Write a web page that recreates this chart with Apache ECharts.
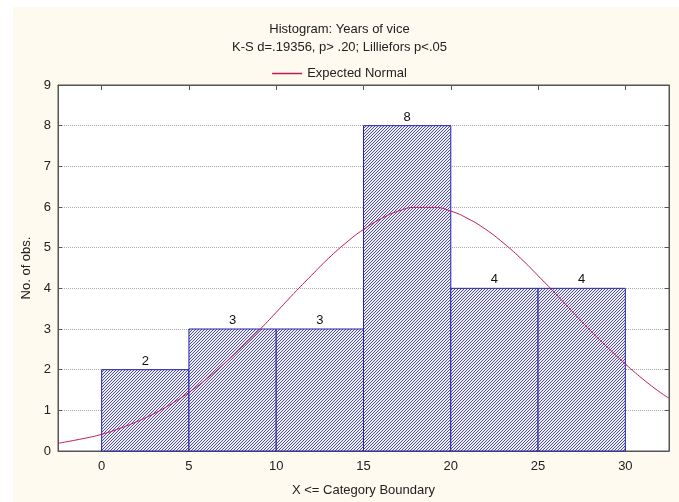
<!DOCTYPE html>
<html>
<head>
<meta charset="utf-8">
<script src="https://cdn.jsdelivr.net/npm/echarts@6/dist/echarts.min.js"></script>
<style>
html,body{margin:0;padding:0;background:#ffffff;}
#chart{width:679px;height:502px;}
</style>
</head>
<body>
<div id="chart"></div>
<script>
// ---- data ----
var binStarts = [0, 5, 10, 15, 20, 25];
var binWidth = 5;
var counts = [2, 3, 3, 8, 4, 4];
var xTicks = [0, 5, 10, 15, 20, 25, 30];
var curveX = [-2.5, -1, 0, 1, 2, 3, 4, 5, 6, 7, 8, 9, 10, 11, 12, 13, 14, 15, 16, 17, 18, 19, 20, 21, 22, 23, 24, 25, 26, 27, 28, 29, 30, 31, 32, 32.5];
var curveY = [0.19, 0.31, 0.41, 0.55, 0.72, 0.92, 1.16, 1.44, 1.77, 2.14, 2.54, 2.96, 3.41, 3.87, 4.31, 4.74, 5.12, 5.45, 5.71, 5.90, 5.99, 5.99, 5.90, 5.71, 5.45, 5.12, 4.74, 4.31, 3.87, 3.41, 2.96, 2.54, 2.14, 1.77, 1.44, 1.30];

var histData = binStarts.map(function (s, i) { return [s, s + binWidth, counts[i]]; });
var curveData = curveX.map(function (x, i) { return [x, curveY[i]]; });

// hatch pattern
var T = 3;
var tile = document.createElement('canvas');
tile.width = T; tile.height = T;
var c = tile.getContext('2d');
c.fillStyle = '#eeeef8';
c.fillRect(0, 0, T, T);
c.strokeStyle = '#3e3e86';
c.lineWidth = 0.9;
c.beginPath();
c.moveTo(0, T); c.lineTo(T, 0);
c.moveTo(-1, 1); c.lineTo(1, -1);
c.moveTo(T - 1, T + 1); c.lineTo(T + 1, T - 1);
c.stroke();

var FONT = 'Liberation Sans, Arial, sans-serif';
var chart = echarts.init(document.getElementById('chart'));
chart.setOption({
  backgroundColor: 'transparent',
  animation: false,
  graphic: [{
    type: 'rect', z: -100, silent: true,
    shape: { x: 13, y: 7, width: 666, height: 495 },
    style: { fill: '#fefaf0' }
  }],
  title: {
    text: 'Histogram: Years of vice',
    subtext: 'K-S d=.19356, p> .20; Lilliefors p<.05',
    left: 'center', top: 18, itemGap: 5,
    textStyle: { fontFamily: FONT, fontSize: 13, fontWeight: 'normal', color: '#222' },
    subtextStyle: { fontFamily: FONT, fontSize: 13, color: '#222' }
  },
  legend: {
    data: [{ name: 'Expected Normal', icon: 'rect' }], top: 62, left: 'center',
    itemWidth: 30, itemHeight: 1.5, itemGap: 6,
    textStyle: { fontFamily: FONT, fontSize: 13, color: '#222' }
  },
  grid: {
    left: 58, right: 10, top: 85, bottom: 49,
    show: true, backgroundColor: '#ffffff', borderColor: '#555', borderWidth: 1
  },
  xAxis: [{
    type: 'value', min: -2.5, max: 32.5,
    name: 'X <= Category Boundary', nameLocation: 'middle', nameGap: 33,
    nameTextStyle: { fontFamily: FONT, fontSize: 13, color: '#222' },
    axisLine: { show: true, onZero: false, lineStyle: { color: '#555' } },
    axisTick: { show: true, inside: true, length: 4, customValues: xTicks, lineStyle: { color: '#555' } },
    axisLabel: { customValues: xTicks, margin: 9, fontFamily: FONT, fontSize: 13, color: '#222' },
    splitLine: { show: false }
  }, {
    type: 'value', min: -2.5, max: 32.5, position: 'top',
    axisLine: { show: true, onZero: false, lineStyle: { color: '#555' } },
    axisTick: { show: true, inside: true, length: 5, customValues: xTicks, lineStyle: { color: '#555' } },
    axisLabel: { show: false },
    splitLine: { show: false }
  }],
  yAxis: [{
    type: 'value', min: 0, max: 9, interval: 1,
    name: 'No. of obs.', nameLocation: 'middle', nameGap: 22,
    nameTextStyle: { fontFamily: FONT, fontSize: 13, color: '#222' },
    axisLine: { show: true, onZero: false, lineStyle: { color: '#555' } },
    axisTick: { show: true, inside: true, length: 4, lineStyle: { color: '#555' } },
    axisLabel: { margin: 7, fontFamily: FONT, fontSize: 13, color: '#222' },
    splitLine: { show: true, lineStyle: { color: '#aaa', type: [1, 1], width: 1 } }
  }, {
    type: 'value', min: 0, max: 9, interval: 1, position: 'right',
    axisLine: { show: true, onZero: false, lineStyle: { color: '#555' } },
    axisTick: { show: true, inside: true, length: 4, lineStyle: { color: '#555' } },
    axisLabel: { show: false },
    splitLine: { show: false }
  }],
  series: [{
    type: 'custom',
    name: 'Histogram',
    xAxisIndex: 0, yAxisIndex: 0,
    data: histData,
    encode: { x: [0, 1], y: 2 },
    renderItem: function (params, api) {
      var p0 = api.coord([api.value(0), api.value(2)]);
      var p1 = api.coord([api.value(1), 0]);
      return {
        type: 'group',
        children: [{
          type: 'rect',
          shape: { x: p0[0], y: p0[1], width: p1[0] - p0[0], height: p1[1] - p0[1] },
          style: { fill: { image: tile, repeat: 'repeat' }, stroke: '#2424a8', lineWidth: 1 }
        }, {
          type: 'text',
          style: {
            text: String(api.value(2)),
            x: (p0[0] + p1[0]) / 2, y: p0[1] - 2,
            textAlign: 'center', textVerticalAlign: 'bottom',
            font: '13px ' + FONT, fill: '#111'
          }
        }]
      };
    },
    z: 2
  }, {
    type: 'line',
    name: 'Expected Normal',
    xAxisIndex: 0, yAxisIndex: 0,
    data: curveData,
    smooth: true,
    showSymbol: false, symbol: 'none',
    lineStyle: { color: '#c0185a', width: 1 },
    itemStyle: { color: '#c0185a' },
    z: 5
  }]
});
</script>
</body>
</html>
